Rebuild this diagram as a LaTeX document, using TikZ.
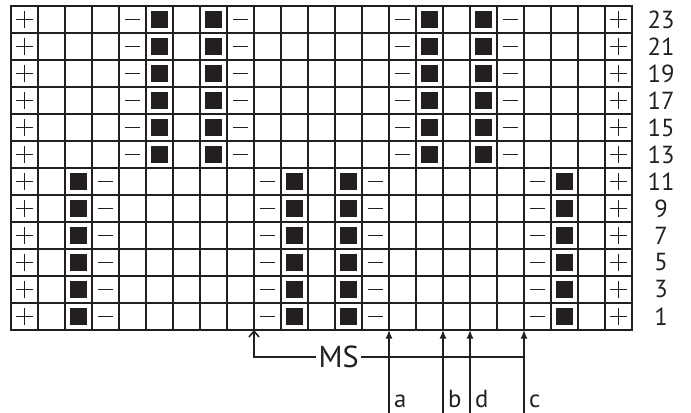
\documentclass[tikz,border=0pt]{standalone}
\usepackage{fontspec}
\setmainfont{PT Sans}
\usetikzlibrary{arrows.meta, positioning}
\definecolor{InkGray}{HTML}{231F20}
\tikzset{
  gridline/.style={draw=InkGray, line width=0.8pt},
  frameline/.style={draw=InkGray, line width=1.2pt},
  symline/.style={draw=InkGray, line width=0.85pt},
  rownum/.style={text=InkGray, font=\fontsize{13}{14}\selectfont, inner sep=0pt},
  cutlabel/.style={text=InkGray, font=\fontsize{13}{14}\selectfont, inner sep=0pt, anchor=base west},
  mslabel/.style={text=InkGray, font=\fontsize{16}{18}\selectfont, inner sep=1pt},
  cutarrow/.style={gridline, -{Latex[length=1.6mm, width=1.3mm]}},
  msarrow/.style={gridline, -{Straight Barb[length=1.1mm, width=1.9mm]}},
  pics/plussign/.style={code={
    \draw[symline] (-0.15,0) -- (0.15,0) (0,-0.15) -- (0,0.15);}},
  pics/minussign/.style={code={
    \draw[symline] (-0.14,0) -- (0.14,0);}},
  pics/knitsq/.style={code={
    \fill[InkGray] (-0.15,-0.15) rectangle (0.15,0.15);}}
}

\begin{document}
\begin{tikzpicture}
\useasboundingbox (-0.204,-1.537) rectangle (12.593,6.111);

% chart grid, 23 stitches x 12 rows
\draw[gridline] (0,0) grid[step=0.5] (11.5,6);
\draw[frameline] (0,0) rectangle (11.5,6);

% edge stitches
\foreach \r in {1,...,12} {
  \pic at (0.25,0.5*\r-0.25) {plussign};
  \pic at (11.25,0.5*\r-0.25) {plussign};
}

% rows 1-11
\foreach \r in {1,...,6} {
  \foreach \c in {4,10,14,20} \pic at (0.5*\c-0.25,0.5*\r-0.25) {minussign};
  \foreach \c in {3,11,13,21} \pic at (0.5*\c-0.25,0.5*\r-0.25) {knitsq};
}

% rows 13-23
\foreach \r in {7,...,12} {
  \foreach \c in {5,9,15,19} \pic at (0.5*\c-0.25,0.5*\r-0.25) {minussign};
  \foreach \c in {6,8,16,18} \pic at (0.5*\c-0.25,0.5*\r-0.25) {knitsq};
}

% row numbers
\foreach \r [evaluate=\r as \n using int(2*\r-1)] in {1,...,12}
  \node[rownum] (row\n) at (12.04,0.5*\r-0.25) {\n};

% size markers under the chart
\coordinate (ms-top) at (4.5,0);
\coordinate (a-top) at (7,0);
\coordinate (b-top) at (8,0);
\coordinate (d-top) at (8.5,0);
\coordinate (c-top) at (9.5,0);
\coordinate (a-end) at (7,-1.537);
\coordinate (b-end) at (8,-1.537);
\coordinate (d-end) at (8.5,-1.537);
\coordinate (c-end) at (9.5,-1.537);

\draw[cutarrow] (a-end) -- (a-top);
\draw[cutarrow] (b-end) -- (b-top);
\draw[cutarrow] (d-end) -- (d-top);
\draw[cutarrow] (c-end) -- (c-top);

\node[cutlabel] (lab-a) at (7.09,-1.43) {a};
\node[cutlabel] (lab-b) at (8.09,-1.43) {b};
\node[cutlabel] (lab-d) at (8.59,-1.43) {d};
\node[cutlabel] (lab-c) at (9.59,-1.43) {c};

\node[mslabel] (ms) at (6.07,-0.5) {MS};
\draw[msarrow] (ms.west) -| (ms-top);
\draw[gridline] (ms.east) -- (ms.east -| c-top);
\end{tikzpicture}
\end{document}
